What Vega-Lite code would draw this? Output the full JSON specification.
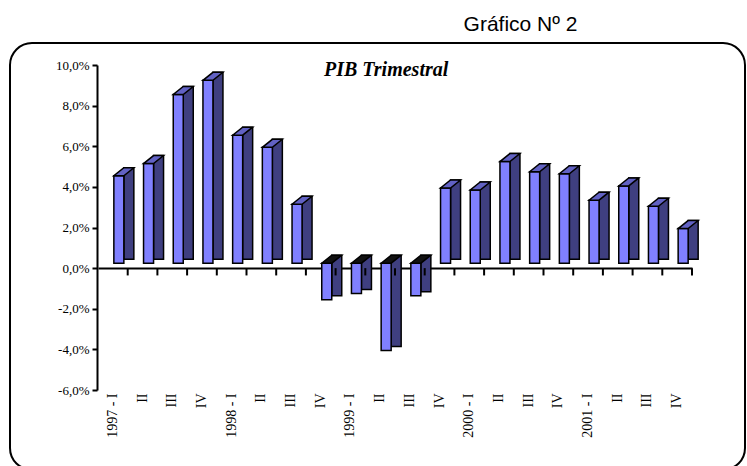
{
  "$schema": "https://vega.github.io/schema/vega-lite/v6.json",
  "width": 735,
  "height": 427,
  "autosize": {"type": "none"},
  "padding": {"left": 10, "top": 43, "right": 2, "bottom": 0},
  "background": "white",
  "config": {
    "view": {"stroke": "black", "strokeWidth": 2, "cornerRadius": 22},
    "font": "Liberation Serif"
  },
  "title": {
    "text": "Gráfico Nº 2",
    "font": "Liberation Sans",
    "fontSize": 21,
    "fontWeight": "normal",
    "color": "black",
    "anchor": "middle",
    "frame": "group",
    "dx": 143,
    "offset": 8
  },
  "data": {
    "values": [
      {"periodo": "1997 - I", "pib": 4.3},
      {"periodo": "1997 - II", "pib": 4.9},
      {"periodo": "1997 - III", "pib": 8.3},
      {"periodo": "1997 - IV", "pib": 9.0},
      {"periodo": "1998 - I", "pib": 6.3},
      {"periodo": "1998 - II", "pib": 5.7},
      {"periodo": "1998 - III", "pib": 2.9},
      {"periodo": "1998 - IV", "pib": -1.8},
      {"periodo": "1999 - I", "pib": -1.5},
      {"periodo": "1999 - II", "pib": -4.3},
      {"periodo": "1999 - III", "pib": -1.6},
      {"periodo": "1999 - IV", "pib": 3.7},
      {"periodo": "2000 - I", "pib": 3.6},
      {"periodo": "2000 - II", "pib": 5.0},
      {"periodo": "2000 - III", "pib": 4.5},
      {"periodo": "2000 - IV", "pib": 4.4},
      {"periodo": "2001 - I", "pib": 3.1},
      {"periodo": "2001 - II", "pib": 3.8},
      {"periodo": "2001 - III", "pib": 2.8},
      {"periodo": "2001 - IV", "pib": 1.7}
    ]
  },
  "resolve": {"axis": {"x": "independent"}},
  "layer": [
    {
      "transform": [{"filter": "datum.pib >= 0"}],
      "mark": {"type": "bar", "width": 10, "xOffset": 16, "yOffset": -13, "y2Offset": -9, "fill": "#3f3f80", "stroke": "black", "strokeWidth": 1.5},
      "encoding": {
        "x": {
          "field": "periodo", "type": "nominal",
          "scale": {"type": "band", "domain": ["1997 - I","1997 - II","1997 - III","1997 - IV","1998 - I","1998 - II","1998 - III","1998 - IV","1999 - I","1999 - II","1999 - III","1999 - IV","2000 - I","2000 - II","2000 - III","2000 - IV","2001 - I","2001 - II","2001 - III","2001 - IV"], "range": [88, 682], "paddingInner": 0, "paddingOuter": 0},
          "axis": {"orient": "bottom", "offset": -202, "labels": false, "title": null, "domain": true, "domainColor": "black", "domainWidth": 2, "ticks": false, "grid": false}
        },
        "y": {
          "field": "pib", "type": "quantitative",
          "scale": {"domain": [-6, 10], "range": [347, 22], "nice": false, "zero": false},
          "axis": {"orient": "left", "offset": -87, "values": [-6, -4, -2, 0, 2, 4, 6, 8, 10], "labelExpr": "(datum.value < 0 ? '-' : '') + replace(format(abs(datum.value), '.1f'), '.', ',') + '%'", "labelFont": "Liberation Serif", "labelFontSize": 13, "labelColor": "black", "tickSize": 5, "tickColor": "black", "tickWidth": 2, "domainColor": "black", "domainWidth": 2, "labelPadding": 3, "grid": false, "title": null}
        },
        "y2": {"datum": 0}
      }
    },
    {
      "transform": [{"filter": "datum.pib < 0"}],
      "mark": {"type": "bar", "width": 10, "xOffset": 16, "yOffset": -9, "y2Offset": -13, "fill": "#3f3f80", "stroke": "black", "strokeWidth": 1.5},
      "encoding": {
        "x": {"field": "periodo", "type": "nominal", "axis": null},
        "y": {"field": "pib", "type": "quantitative"},
        "y2": {"datum": 0}
      }
    },
    {
      "mark": {"type": "bar", "width": 10, "xOffset": 6, "yOffset": -5, "y2Offset": -5, "fill": "#8080ff", "stroke": "black", "strokeWidth": 1.5},
      "encoding": {
        "x": {
          "field": "periodo", "type": "nominal",
          "axis": {"orient": "bottom", "offset": -80, "domain": false, "ticks": false, "labelAngle": -90, "labelFont": "Liberation Serif", "labelFontSize": 14, "labelColor": "black", "labelPadding": 3, "labelOverlap": false, "title": null, "grid": false, "labelExpr": "split(datum.value, ' - ')[1] == 'I' ? datum.value : split(datum.value, ' - ')[1]"}
        },
        "y": {"field": "pib", "type": "quantitative"},
        "y2": {"datum": 0}
      }
    },
    {
      "transform": [{"filter": "datum.pib >= 0"}],
      "mark": {"type": "point", "shape": "M -1 0.4 L 0 0.4 L 1 -0.4 L 0 -0.4 Z", "size": 400, "filled": true, "opacity": 1, "fill": "#6262c4", "stroke": "black", "strokeWidth": 1.5, "xOffset": 11, "yOffset": -9},
      "encoding": {
        "x": {"field": "periodo", "type": "nominal", "axis": null},
        "y": {"field": "pib", "type": "quantitative"}
      }
    },
    {
      "transform": [{"filter": "datum.pib < 0"}],
      "mark": {"type": "point", "shape": "M -1 0.4 L 0 0.4 L 1 -0.4 L 0 -0.4 Z", "size": 400, "filled": true, "opacity": 1, "fill": "#111111", "stroke": "black", "strokeWidth": 1.5, "xOffset": 11, "yOffset": -9},
      "encoding": {
        "x": {"field": "periodo", "type": "nominal", "axis": null},
        "y": {"datum": 0}
      }
    },
    {
      "mark": {"type": "rule", "color": "black", "strokeWidth": 2, "opacity": 1, "xOffset": 14.85},
      "encoding": {
        "x": {"field": "periodo", "type": "nominal", "axis": null},
        "y": {"datum": 0},
        "y2": {"datum": -0.36}
      }
    },
    {
      "data": {"values": [{"titulo": "PIB Trimestral"}]},
      "mark": {"type": "text", "font": "Liberation Serif", "fontSize": 20, "fontWeight": "bold", "fontStyle": "italic", "color": "black", "baseline": "alphabetic", "align": "center", "xOffset": 6},
      "encoding": {
        "x": {"datum": "1999 - II", "type": "nominal", "axis": null},
        "y": {"datum": 9.45, "type": "quantitative"},
        "text": {"field": "titulo"}
      }
    }
  ]
}
